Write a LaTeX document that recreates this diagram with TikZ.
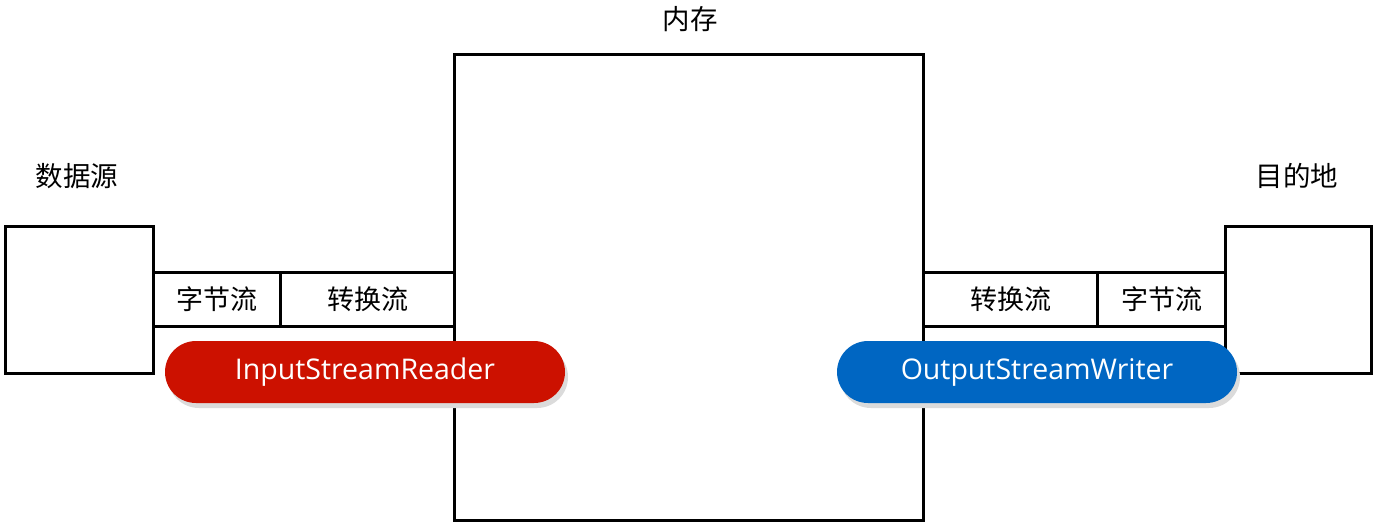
\documentclass[tikz,border=0pt]{standalone}
\usepackage{fontspec}
\setmainfont{Open Sans}
\newfontfamily\cjk{Noto Sans CJK SC}
\usetikzlibrary{shadows}
\definecolor{pillred}{HTML}{CC1100}
\definecolor{pillblue}{HTML}{0066C2}
\begin{document}
\begin{tikzpicture}[x=1pt,y=-1pt,
  boxline/.style={draw=black,line width=3pt,fill=white},
  cell/.style={boxline,anchor=north west,inner sep=0pt,font=\cjk\fontsize{27}{30}\selectfont},
  lbl/.style={font=\cjk\fontsize{27.5}{30}\selectfont,inner sep=0pt},
  pill/.style={rounded corners=31pt,minimum width=400pt,minimum height=62pt,inner sep=0pt,
    text=white,font=\fontsize{28.5}{32}\selectfont,
    drop shadow={shadow xshift=3pt,shadow yshift=-5pt,fill=black!14,opacity=1}}]
\useasboundingbox (0,0) rectangle (1376,525);
\fill[white] (0,0) rectangle (1376,525);
% boxes
\node[boxline,anchor=north west,minimum width=148pt,minimum height=147pt] (src) at (4,225) {};
\node[boxline,anchor=north west,minimum width=469pt,minimum height=466pt] (mem) at (453,53) {};
\node[boxline,anchor=north west,minimum width=146pt,minimum height=147pt] (dst) at (1224,225) {};
% left channel
\node[cell,minimum width=127pt,minimum height=54pt] (lbyte) at (152,271) {字节流};
\node[cell,minimum width=174pt,minimum height=54pt] (lconv) at (279,271) {转换流};
% right channel
\node[cell,minimum width=174pt,minimum height=54pt] (rconv) at (922,271) {转换流};
\node[cell,minimum width=128pt,minimum height=54pt] (rbyte) at (1096,271) {字节流};
% labels
\node[lbl] (lsrc) at (77,176) {数据源};
\node[lbl] (lmem) at (690,19) {内存};
\node[lbl] (ldst) at (1297,176) {目的地};
% pills
\node[pill,fill=pillred] (isr) at (365,372) {InputStreamReader};
\node[pill,fill=pillblue] (osw) at (1037,372) {OutputStreamWriter};
\end{tikzpicture}
\end{document}
